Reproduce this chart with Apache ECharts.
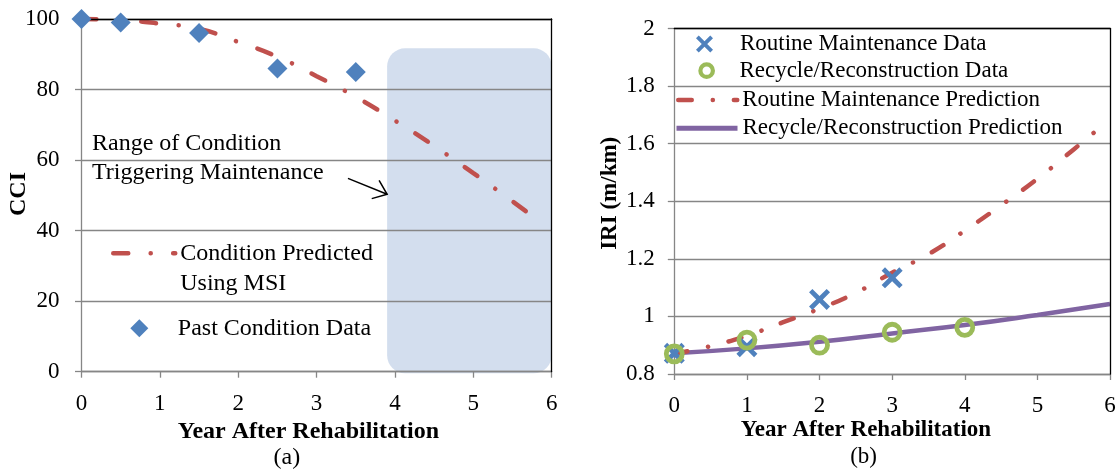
<!DOCTYPE html>
<html><head><meta charset="utf-8">
<script src="https://cdn.jsdelivr.net/npm/echarts@6/dist/echarts.min.js"></script>
<style>html,body{margin:0;padding:0;background:#fff}#c{width:1117px;height:472px}</style>
</head><body><div id="c"></div>
<script>
// ---------- Panel (a) data ----------
const yearsPast = [0, 0.5, 1.5, 2.5, 3.5];
const cciPast = [100, 99, 96, 86, 85];
const yearsPred = [0, 0.5, 1, 1.5, 2, 2.5, 3, 3.5, 4, 4.5, 5, 5.5, 5.88];
const cciPred = [100, 99.7, 98.7, 97.2, 93.5, 89.3, 83.8, 77.9, 71.2, 64.0, 56.3, 48.3, 42.0];
const triggerRangeX = [3.9, 6];
const triggerRangeY = [-0.45, 91.7];
const arrowFrom = [3.40, 54.8];
const arrowTo = [3.90, 50.3];
const cciTicks = [0, 20, 40, 60, 80, 100];

// ---------- Panel (b) data ----------
const yearsRoutineData = [0, 1, 2, 3];
const iriRoutineData = [0.872, 0.895, 1.059, 1.134];
const yearsRecycleData = [0, 1, 2, 3, 4];
const iriRecycleData = [0.870, 0.918, 0.900, 0.945, 0.962];
const yearsRoutinePred = [0, 0.5, 1, 1.5, 2, 2.5, 3, 3.5, 4, 4.5, 5, 5.5, 5.88];
const iriRoutinePred = [0.870, 0.897, 0.933, 0.980, 1.027, 1.082, 1.152, 1.216, 1.298, 1.386, 1.478, 1.580, 1.660];
const yearsRecyclePred = [0, 1, 2, 3, 4, 5, 6];
const iriRecyclePred = [0.872, 0.889, 0.912, 0.941, 0.970, 1.005, 1.043];
const iriTicks = [0.8, 1, 1.2, 1.4, 1.6, 1.8, 2];
const yearTicks = [0, 1, 2, 3, 4, 5, 6];

// ---------- text ----------
const nameCondPred = 'Condition Predicted\nUsing MSI';
const namePast = 'Past Condition Data';
const nameRoutineData = 'Routine Maintenance Data';
const nameRecycleData = 'Recycle/Reconstruction Data';
const nameRoutinePred = 'Routine Maintenance Prediction';
const nameRecyclePred = 'Recycle/Reconstruction Prediction';
const annotation = 'Range of Condition\nTriggering Maintenance';
const xTitle = 'Year After Rehabilitation';

const SERIF = '"Liberation Serif", "Times New Roman", serif';
const RED = '#c0504d', BLUE = '#4f81bd', GREEN = '#9bbb59', PURPLE = '#8064a2';
const GRAY = '#868686';
const dashA = [15, 22.4, 0.1, 22.4];
const dashB = [13.5, 21, 0.1, 21];
const X_PATH = 'path://M0,1.6 L1.6,0 L5,3.4 L8.4,0 L10,1.6 L6.6,5 L10,8.4 L8.4,10 L5,6.6 L1.6,10 L0,8.4 L3.4,5 Z';

const zip = (a, b) => a.map((v, i) => [v, b[i]]);

function xAxes(grid, labelMargin) {
  return [
    { gridIndex: grid, type: 'value', min: yearTicks[0], max: yearTicks[yearTicks.length - 1], interval: 1,
      axisLine: { show: true, onZero: false, lineStyle: { color: GRAY, width: 1.3 } },
      axisTick: { show: true, inside: false, length: 6, lineStyle: { color: GRAY, width: 1.3 } },
      axisLabel: { margin: labelMargin, fontSize: 23, color: '#000', fontFamily: SERIF },
      splitLine: { show: false } },
    { gridIndex: grid, type: 'value', position: 'top', min: yearTicks[0], max: yearTicks[yearTicks.length - 1], interval: 1, z: 5,
      axisLine: { show: true, onZero: false, lineStyle: { color: '#000', width: 1.3 } },
      axisTick: { show: false }, axisLabel: { show: false }, splitLine: { show: false } }
  ];
}
function yAxes(grid, ticks, labelMargin) {
  const interval = +(ticks[1] - ticks[0]).toFixed(6);
  return [
    { gridIndex: grid, type: 'value', min: ticks[0], max: ticks[ticks.length - 1], interval: interval,
      axisLine: { show: true, onZero: false, lineStyle: { color: GRAY, width: 1.3 } },
      axisTick: { show: true, inside: false, length: 6.5, lineStyle: { color: GRAY, width: 1.3 } },
      axisLabel: { margin: labelMargin, fontSize: 23, color: '#000', fontFamily: SERIF },
      splitLine: { show: true, lineStyle: { color: GRAY, width: 1.3 } } },
    { gridIndex: grid, type: 'value', position: 'right', min: ticks[0], max: ticks[ticks.length - 1], interval: interval, z: 5,
      axisLine: { show: true, onZero: false, lineStyle: { color: '#000', width: 1.3 } },
      axisTick: { show: false }, axisLabel: { show: false }, splitLine: { show: false } }
  ];
}

const legendText = (size) => ({ fontFamily: SERIF, fontSize: size, color: '#000', lineHeight: 26 });
const padText = (size, pad) => ({ fontFamily: SERIF, fontSize: size, color: '#000', lineHeight: 26,
  rich: { p: { fontFamily: SERIF, fontSize: size, color: '#000', lineHeight: 26, padding: [0, 0, 0, pad] } } });

const option = {
  animation: false,
  backgroundColor: '#fff',
  grid: [
    { left: 81.5, right: 565.3, top: 19, bottom: 100.3, containLabel: false, outerBoundsMode: 'none' },
    { left: 674.3, right: 7, top: 28.5, bottom: 98, containLabel: false, outerBoundsMode: 'none' }
  ],
  xAxis: [].concat(xAxes(0, 21), xAxes(1, 20)),
  yAxis: [].concat(yAxes(0, cciTicks, 22), yAxes(1, iriTicks, 19.5)),
  legend: [
    { data: [{ name: nameCondPred, itemStyle: { opacity: 0 } }], left: 111, top: 253.3 - 45, padding: 0,
      itemWidth: 62, itemHeight: 14, selectedMode: false, orient: 'vertical',
      formatter: function (n) { return '\n' + n; },
      lineStyle: { width: 4.5, color: RED, type: dashA, cap: 'round' },
      textStyle: { fontFamily: SERIF, fontSize: 24, color: '#000', lineHeight: 30 } },
    { data: [namePast], left: 130.3, top: 328.3 - 15, padding: 0, itemWidth: 18, itemHeight: 18, selectedMode: false,
      formatter: '{p|{name}}', textStyle: { fontFamily: SERIF, fontSize: 24, color: '#000', lineHeight: 30,
        rich: { p: { fontFamily: SERIF, fontSize: 24, color: '#000', lineHeight: 30, padding: [0, 0, 0, 24.5] } } } },
    { data: [nameRoutineData], left: 696, top: 44 - 13, padding: 0, itemWidth: 17, itemHeight: 17, selectedMode: false,
      formatter: '{p|{name}}', textStyle: padText(23, 22) },
    { data: [{ name: nameRecycleData, itemStyle: { borderWidth: 4.2, borderColor: GREEN, color: 'rgba(0,0,0,0)' } }],
      left: 698.3, top: 70.7 - 13, padding: 0, itemWidth: 12.5, itemHeight: 12.5, selectedMode: false,
      formatter: '{p|{name}}', textStyle: padText(23, 21.5) },
    { data: [{ name: nameRoutinePred, itemStyle: { opacity: 0 } }], left: 676, top: 100 - 13, padding: 0,
      itemWidth: 59, itemHeight: 14, selectedMode: false,
      lineStyle: { width: 4.5, color: RED, type: dashB, cap: 'round' }, textStyle: legendText(23) },
    { data: [{ name: nameRecyclePred, itemStyle: { opacity: 0 } }], left: 674, top: 128.3 - 13, padding: 0,
      itemWidth: 61, itemHeight: 14, selectedMode: false,
      lineStyle: { width: 5, color: PURPLE, type: 'solid' }, textStyle: legendText(23) }
  ],
  graphic: [
    { type: 'text', left: 92, top: 129.5, style: { text: annotation, font: '24px ' + SERIF, fill: '#000', lineHeight: 29 } },
    { type: 'text', x: 308.4, y: 431.7, style: { text: xTitle, x: 0, y: 0, align: 'center', verticalAlign: 'middle', font: 'bold 24px ' + SERIF, fill: '#000' } },
    { type: 'text', x: 286.8, y: 458, style: { text: '(a)', x: 0, y: 0, align: 'center', verticalAlign: 'middle', font: '24px ' + SERIF, fill: '#000' } },
    { type: 'text', x: 865.9, y: 430, style: { text: xTitle, x: 0, y: 0, align: 'center', verticalAlign: 'middle', font: 'bold 23px ' + SERIF, fill: '#000' } },
    { type: 'text', x: 863.6, y: 456.7, style: { text: '(b)', x: 0, y: 0, align: 'center', verticalAlign: 'middle', font: '23px ' + SERIF, fill: '#000' } },
    { type: 'text', x: 18.3, y: 194, rotation: Math.PI / 2, style: { text: 'CCI', x: 0, y: 0, align: 'center', verticalAlign: 'middle', font: 'bold 24px ' + SERIF, fill: '#000' } },
    { type: 'text', x: 610, y: 193.3, rotation: Math.PI / 2, style: { text: 'IRI (m/km)', x: 0, y: 0, align: 'center', verticalAlign: 'middle', font: 'bold 23px ' + SERIF, fill: '#000' } }
  ],
  series: [
    { type: 'custom', name: 'triggerRange', xAxisIndex: 0, yAxisIndex: 0, z: -1, silent: true, clip: false,
      data: [[triggerRangeX[0], triggerRangeY[0], triggerRangeX[1], triggerRangeY[1]]],
      encode: { x: [0, 2], y: [1, 3] },
      renderItem: function (params, api) {
        const p1 = api.coord([api.value(0), api.value(3)]);
        const p2 = api.coord([api.value(2), api.value(1)]);
        return { type: 'rect', shape: { x: p1[0], y: p1[1], width: p2[0] - p1[0], height: p2[1] - p1[1], r: 18 },
          style: { fill: '#d3deee' } };
      } },
    { type: 'custom', name: 'arrow', xAxisIndex: 0, yAxisIndex: 0, z: 4, silent: true, clip: false,
      data: [[arrowFrom[0], arrowFrom[1], arrowTo[0], arrowTo[1]]],
      encode: { x: [0, 2], y: [1, 3] },
      renderItem: function (params, api) {
        const a = api.coord([api.value(0), api.value(1)]);
        const b = api.coord([api.value(2), api.value(3)]);
        const ang = Math.atan2(b[1] - a[1], b[0] - a[0]);
        const L = 16, s = 0.66;
        const h1 = [b[0] - L * Math.cos(ang - s), b[1] - L * Math.sin(ang - s)];
        const h2 = [b[0] - L * Math.cos(ang + s), b[1] - L * Math.sin(ang + s)];
        return { type: 'group', children: [
          { type: 'line', shape: { x1: a[0], y1: a[1], x2: b[0], y2: b[1] }, style: { stroke: '#000', lineWidth: 1.5 } },
          { type: 'polyline', shape: { points: [h1, b, h2] }, style: { stroke: '#000', lineWidth: 1.5, fill: null } }
        ] };
      } },
    { type: 'line', name: nameCondPred, xAxisIndex: 0, yAxisIndex: 0, data: zip(yearsPred, cciPred),
      smooth: true, symbol: 'none', clip: false,
      lineStyle: { color: RED, width: 4.5, type: dashA, cap: 'round' }, itemStyle: { color: RED } },
    { type: 'scatter', name: namePast, xAxisIndex: 0, yAxisIndex: 0, data: zip(yearsPast, cciPast),
      symbol: 'diamond', symbolSize: 20, clip: false, itemStyle: { color: BLUE, opacity: 1 }, z: 5 },

    { type: 'line', name: nameRecyclePred, xAxisIndex: 2, yAxisIndex: 2, data: zip(yearsRecyclePred, iriRecyclePred),
      smooth: true, symbol: 'none', clip: false,
      lineStyle: { color: PURPLE, width: 4.5 }, itemStyle: { color: PURPLE } },
    { type: 'line', name: nameRoutinePred, xAxisIndex: 2, yAxisIndex: 2, data: zip(yearsRoutinePred, iriRoutinePred),
      smooth: true, symbol: 'none', clip: false,
      lineStyle: { color: RED, width: 4.5, type: dashB, cap: 'round' }, itemStyle: { color: RED } },
    { type: 'scatter', name: nameRoutineData, xAxisIndex: 2, yAxisIndex: 2, data: zip(yearsRoutineData, iriRoutineData),
      symbol: X_PATH, symbolSize: 21, clip: false, itemStyle: { color: BLUE, opacity: 1 }, z: 5 },
    { type: 'scatter', name: nameRecycleData, xAxisIndex: 2, yAxisIndex: 2, data: zip(yearsRecycleData, iriRecycleData),
      symbol: 'circle', symbolSize: 16, clip: false,
      itemStyle: { color: 'rgba(0,0,0,0)', borderColor: GREEN, borderWidth: 4.8, opacity: 1 }, z: 6 }
  ]
};

const chart = echarts.init(document.getElementById('c'), null, { renderer: 'canvas' });
chart.setOption(option);
</script>
</body></html>
